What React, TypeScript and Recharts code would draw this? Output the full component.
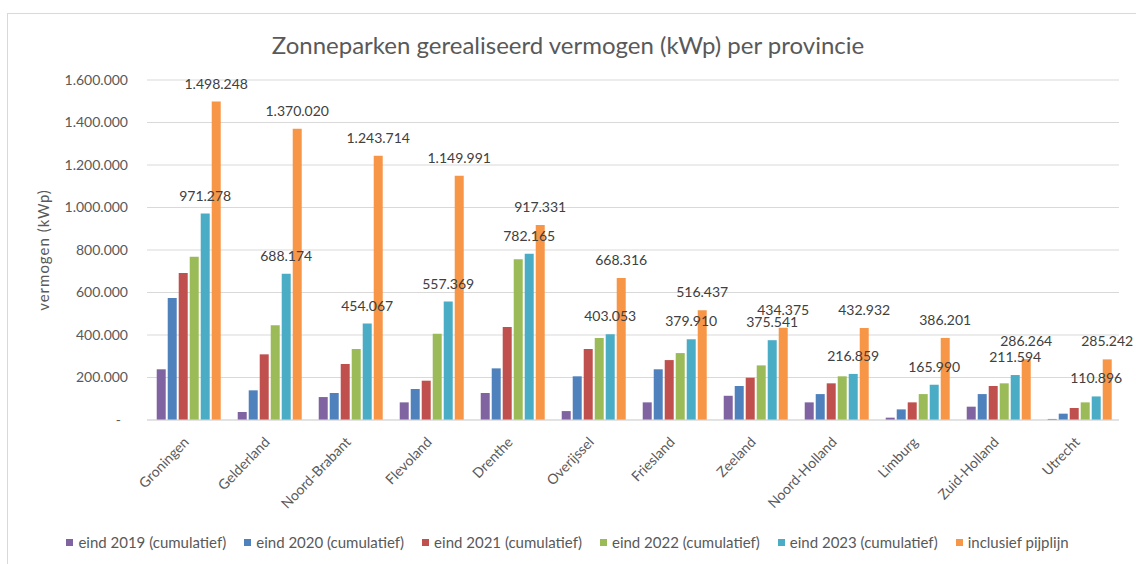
import React from 'react';
import { BarChart, Bar, XAxis, YAxis, CartesianGrid, Legend, LabelList } from 'recharts';

const provinces = ['Groningen', 'Gelderland', 'Noord-Brabant', 'Flevoland', 'Drenthe', 'Overijssel', 'Friesland', 'Zeeland', 'Noord-Holland', 'Limburg', 'Zuid-Holland', 'Utrecht'];
const eind2019 = [238600, 37600, 108000, 83000, 127000, 42000, 83000, 114000, 83000, 11000, 62700, 5000];
const eind2020 = [574000, 139600, 127000, 146000, 243000, 205600, 238600, 160000, 122000, 50000, 122000, 29800];
const eind2021 = [692000, 309000, 263500, 185000, 437600, 334000, 282000, 199000, 172600, 83000, 160000, 56500];
const eind2022 = [768600, 445600, 334000, 406000, 756000, 386000, 315000, 257000, 205600, 122000, 172600, 83000];
const eind2023 = [971278, 688174, 454067, 557369, 782165, 403053, 379910, 375541, 216859, 165990, 211594, 110896];
const pijplijn = [1498248, 1370020, 1243714, 1149991, 917331, 668316, 516437, 434375, 432932, 386201, 286264, 285242];

const yTicks = [0, 200000, 400000, 600000, 800000, 1000000, 1200000, 1400000, 1600000];

const seriesNames = ['eind 2019 (cumulatief)', 'eind 2020 (cumulatief)', 'eind 2021 (cumulatief)', 'eind 2022 (cumulatief)', 'eind 2023 (cumulatief)', 'inclusief pijplijn'];
const seriesColors = ['#8064A2', '#4F81BD', '#C0504D', '#9BBB59', '#4BACC6', '#F79646'];
const seriesKeys = ['s2019', 's2020', 's2021', 's2022', 's2023', 'pijp'];

const rows = provinces.map((name, i) => ({
  name,
  s2019: eind2019[i],
  s2020: eind2020[i],
  s2021: eind2021[i],
  s2022: eind2022[i],
  s2023: eind2023[i],
  pijp: pijplijn[i],
}));

const FONT = 'Lato, "Open Sans", sans-serif';

const dots = (v: number) => String(Math.round(v)).replace(/\B(?=(\d{3})+(?!\d))/g, '.');
const fmtTick = (v: number) => (v === 0 ? '-\u00a0\u00a0' : dots(v));

const YLabel = (props: any) => {
  const vb = props.viewBox || { x: 0, y: 80, width: 147, height: 340 };
  const cx = vb.x + 43;
  const cy = vb.y + vb.height / 2;
  return (
    <text x={cx} y={cy} transform={`rotate(-90 ${cx} ${cy})`} textAnchor="middle" dominantBaseline="central" fill="#595959" fontSize={15} letterSpacing={1} fontFamily={FONT}>
      vermogen (kWp)
    </text>
  );
};

const XTick = (props: any) => {
  const { x, y, payload } = props;
  return (
    <g transform={`translate(${x - 5},${y + 8})`}>
      <text x={0} y={0} dy={10} textAnchor="end" transform="rotate(-46)" fill="#595959" fontSize={14} fontFamily={FONT}>
        {payload.value}
      </text>
    </g>
  );
};

const LegendContent = () => (
  <div style={{ height: 44, display: 'flex', alignItems: 'center', justifyContent: 'center', paddingLeft: 16, fontFamily: FONT, fontSize: 15, color: '#595959' }}>
    {seriesNames.map((n, i) => (
      <div key={n} style={{ display: 'flex', alignItems: 'center', marginRight: i < seriesNames.length - 1 ? 18 : 0 }}>
        <span style={{ display: 'inline-block', width: 7, height: 7, background: seriesColors[i], marginRight: 5 }} />
        <span>{n}</span>
      </div>
    ))}
  </div>
);

export default function App() {
  return (
    <div style={{ position: 'absolute', left: 0, top: 0, width: 1136, height: 564, background: '#fff' }}>
      <div style={{ position: 'absolute', left: 7, top: 13, width: 1129, height: 551, borderLeft: '1px solid #d9d9d9', borderTop: '1px solid #d9d9d9' }} />
      <div style={{ position: 'absolute', left: 0, top: 32, width: 1136, textAlign: 'center', fontFamily: FONT, fontSize: 24, lineHeight: '26px', color: '#595959' }}>
        Zonneparken gerealiseerd vermogen (kWp) per provincie
      </div>
      <BarChart width={1136} height={564} data={rows} margin={{ top: 80, right: 17, left: 0, bottom: 0 }} barCategoryGap="12%" barGap={2}>
        <CartesianGrid vertical={false} stroke="#d9d9d9" />
        <XAxis dataKey="name" interval={0} height={100} tickLine={false} axisLine={{ stroke: '#d9d9d9' }} tick={<XTick />} />
        <YAxis width={147} domain={[0, 1600000]} ticks={yTicks} tickFormatter={fmtTick} axisLine={false} tickLine={false} tickSize={6} tickMargin={13} tick={{ fill: '#595959', fontSize: 14, fontFamily: FONT }} label={<YLabel />} />
        <Legend verticalAlign="bottom" content={<LegendContent />} />
        {seriesKeys.map((k, i) => (
          <Bar key={k} dataKey={k} name={seriesNames[i]} fill={seriesColors[i]} isAnimationActive={false}>
            {i >= 4 ? (
              <LabelList dataKey={k} position="top" offset={13} formatter={(v: any) => dots(Number(v))} fill="#404040" fontSize={14} fontFamily={FONT} />
            ) : null}
          </Bar>
        ))}
      </BarChart>
    </div>
  );
}
